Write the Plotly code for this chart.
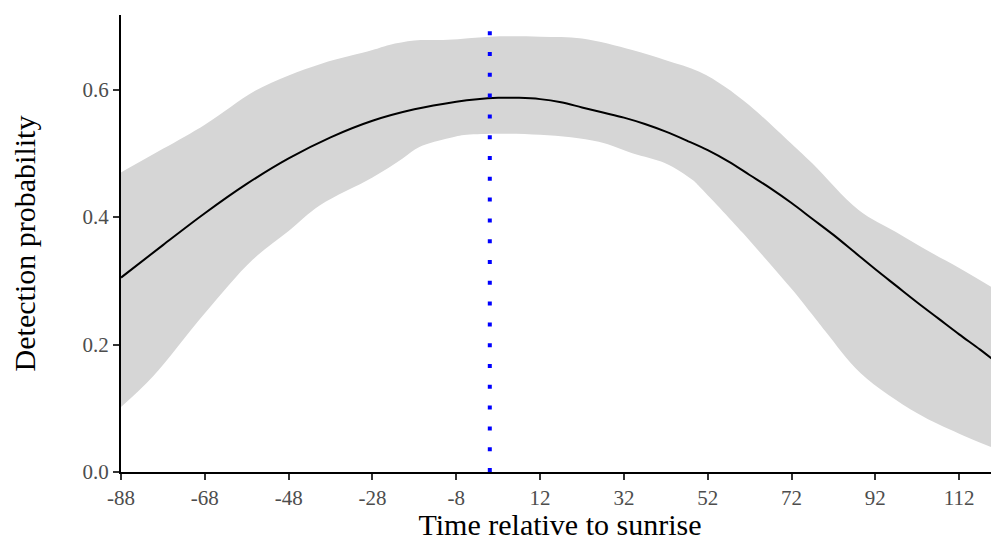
import plotly.graph_objects as go

# Fitted detection probability curve
curve_x = [-88, -78, -68, -58, -48, -38, -28, -18, -8, -3, 2, 7, 12, 17, 22, 27, 32, 37, 42, 47, 52,
           57, 62, 67, 72, 77, 82, 87, 92, 97, 102, 107, 112, 117, 121.5]
curve_y = [0.305, 0.356, 0.406, 0.452, 0.492, 0.525, 0.551, 0.569, 0.581, 0.585, 0.587, 0.587, 0.585,
           0.580, 0.572, 0.564, 0.556, 0.546, 0.534, 0.520, 0.505, 0.487, 0.466, 0.445, 0.422, 0.397,
           0.372, 0.345, 0.318, 0.292, 0.266, 0.241, 0.216, 0.192, 0.169]

# Upper confidence band
upper_x = [-88, -78, -68, -62, -56, -48, -40, -28, -24, -18, -10, 0, 12, 22, 34, 42, 50, 56, 62, 71, 77,
           88, 97, 104, 112, 121.5]
upper_y = [0.470, 0.507, 0.545, 0.572, 0.598, 0.622, 0.641, 0.662, 0.670, 0.677, 0.678, 0.683, 0.683,
           0.680, 0.662, 0.646, 0.628, 0.605, 0.575, 0.521, 0.484, 0.411, 0.376, 0.349, 0.320, 0.283]

# Lower confidence band
lower_x = [-88, -80.5, -68, -56.6, -48, -40.6, -28, -20.8, -16.8, -9.6, -5.5, 12, 26, 34, 42,
           48.4, 50, 60.4, 66, 72.3, 78, 80.4, 88.5, 102, 112, 121.5]
lower_y = [0.102, 0.149, 0.249, 0.333, 0.378, 0.418, 0.462, 0.492, 0.510, 0.524, 0.529, 0.529,
           0.518, 0.500, 0.484, 0.458, 0.448, 0.375, 0.333, 0.285, 0.238, 0.218, 0.155, 0.092, 0.060, 0.034]

sunrise_x = 0
x_ticks = [-88, -68, -48, -28, -8, 12, 32, 52, 72, 92, 112]
y_ticks = [0.0, 0.2, 0.4, 0.6]
y_tick_text = ["0.0", "0.2", "0.4", "0.6"]

FONT = "Liberation Serif"
BAND = "rgb(214,214,214)"

fig = go.Figure()

fig.add_trace(go.Scatter(
    x=lower_x, y=lower_y,
    mode="lines",
    line=dict(width=0, color=BAND, shape="spline", smoothing=1.0),
    hoverinfo="skip", showlegend=False,
))
fig.add_trace(go.Scatter(
    x=upper_x, y=upper_y,
    mode="lines", fill="tonexty", fillcolor=BAND,
    line=dict(width=0, color=BAND, shape="spline", smoothing=1.0),
    hoverinfo="skip", showlegend=False,
))

fig.add_trace(go.Scatter(
    x=curve_x, y=curve_y,
    mode="lines",
    line=dict(color="black", width=2, shape="spline", smoothing=1.0),
    showlegend=False,
))

fig.add_shape(
    type="line", xref="x", yref="paper",
    x0=sunrise_x, x1=sunrise_x, y0=0, y1=1,
    line=dict(color="#0000FF", width=4, dash="4px,16.8px"),
)

# The page body has an 8px default margin, so the figure is offset by 8px.
fig.update_layout(
    width=991, height=533,
    margin=dict(l=113, r=0, t=7, b=69),
    plot_bgcolor="white",
    paper_bgcolor="white",
    font=dict(family=FONT, color="black"),
    xaxis=dict(
        range=[-88, 121.5],
        tickvals=x_ticks,
        ticktext=[str(v) for v in x_ticks],
        showline=True, linecolor="black", linewidth=2,
        ticks="outside", ticklen=6, tickwidth=2, tickcolor="#333333",
        tickfont=dict(family=FONT, size=21, color="#4D4D4D"),
        showgrid=False, zeroline=False, automargin=False,
        title=dict(text="Time relative to sunrise", font=dict(family=FONT, size=30, color="black"), standoff=6),
    ),
    yaxis=dict(
        range=[0, 0.717],
        tickvals=y_ticks,
        ticktext=y_tick_text,
        showline=True, linecolor="black", linewidth=2,
        ticks="outside", ticklen=6, tickwidth=2, tickcolor="#333333",
        tickfont=dict(family=FONT, size=21, color="#4D4D4D"),
        showgrid=False, zeroline=False, automargin=False,
        title=dict(text="Detection probability", font=dict(family=FONT, size=30, color="black"), standoff=38),
    ),
)

fig.write_html("out.html")
